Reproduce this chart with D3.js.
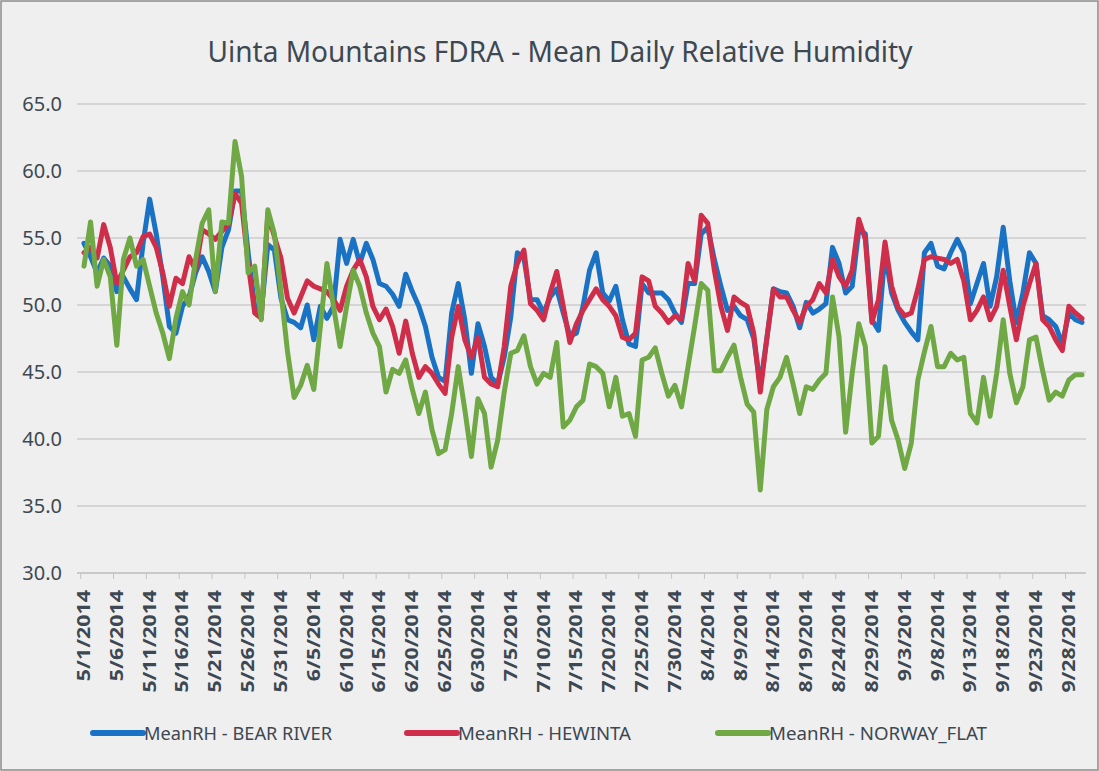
<!DOCTYPE html>
<html>
<head>
<meta charset="utf-8">
<script src="https://cdn.jsdelivr.net/npm/d3@7"></script>
<style>
  body { margin: 0; background: #fff; }
  svg { display: block; }
</style>
</head>
<body>
<svg id="chart" width="1099" height="771"></svg>
<script>
// daily values, 5/1/2014 .. 9/30/2014
const bearRiver = [
  54.6, 53.6, 52.4, 53.5, 52.9, 51.0, 52.1, 51.2, 50.4, 54.6,
  57.9, 55.3, 52.1, 48.4, 47.9, 49.9, 50.6, 52.4, 53.6, 52.5,
  51.0, 54.3, 55.6, 58.5, 58.5, 53.9, 49.9, 49.5, 54.5, 54.1,
  50.5, 48.9, 48.7, 48.3, 50.0, 47.4, 49.9, 49.0, 49.9, 54.9,
  53.1, 54.9, 53.1, 54.6, 53.4, 51.6, 51.4, 50.8, 49.9, 52.3,
  51.0, 49.9, 48.4, 46.1, 44.6, 44.3, 49.4, 51.6, 48.9, 44.9,
  48.6, 46.9, 44.6, 44.1, 46.1, 49.1, 53.9, 53.5, 50.4, 50.4,
  49.4, 50.6, 51.2, 49.4, 47.7, 47.9, 49.9, 52.6, 53.9, 50.9,
  50.3, 51.4, 48.9, 47.1, 46.9, 51.6, 50.9, 50.9, 50.9, 50.4,
  49.4, 48.7, 51.6, 51.6, 55.3, 55.8, 53.4, 51.4, 49.6, 49.9,
  49.2, 48.9, 47.5, 44.0, 47.5, 51.2, 51.0, 50.9, 49.9, 48.3,
  50.2, 49.4, 49.7, 50.1, 54.3, 53.1, 50.9, 51.4, 55.6, 55.3,
  48.9, 48.1, 53.9, 50.9, 49.6, 48.7, 48.0, 47.4, 53.9, 54.6,
  52.9, 52.7, 53.9, 54.9, 53.9, 50.1, 51.6, 53.1, 49.9, 52.1,
  55.8, 51.8, 48.7, 50.9, 53.9, 53.1, 49.2, 48.9, 48.4, 47.1,
  49.4, 48.9, 48.7
];

const hewinta = [
  53.9, 54.3, 53.5, 56.0, 54.3, 51.6, 52.6, 53.6, 53.9, 55.1,
  55.3, 54.3, 52.4, 49.9, 52.0, 51.6, 53.6, 52.6, 55.6, 55.3,
  54.9, 55.5, 56.0, 58.3, 57.6, 53.1, 49.4, 49.0, 56.8, 55.1,
  53.5, 50.5, 49.4, 50.6, 51.8, 51.4, 51.2, 51.0, 50.4, 49.6,
  51.4, 52.6, 53.4, 52.1, 49.9, 48.9, 49.7, 48.4, 46.4, 48.8,
  46.4, 44.6, 45.4, 44.9, 44.1, 43.4, 47.6, 49.9, 47.4, 46.1,
  47.6, 44.6, 44.1, 43.9, 46.9, 51.4, 53.1, 54.1, 50.1, 49.6,
  48.9, 50.9, 52.5, 49.9, 47.2, 48.6, 49.6, 50.4, 51.2, 50.4,
  49.9, 49.2, 47.6, 47.4, 47.9, 52.1, 51.8, 49.9, 49.4, 48.7,
  49.2, 48.9, 53.1, 51.8, 56.7, 56.1, 52.6, 49.9, 48.1, 50.6,
  50.2, 49.9, 47.9, 43.5, 47.5, 51.2, 50.6, 50.6, 49.6, 48.7,
  49.9, 50.4, 51.6, 50.9, 53.4, 52.1, 51.4, 52.6, 56.4, 54.9,
  48.7, 50.4, 54.7, 51.4, 49.8, 49.2, 49.4, 51.2, 53.4, 53.6,
  53.5, 53.4, 53.1, 53.4, 51.8, 48.9, 49.6, 50.6, 48.9, 49.9,
  52.6, 49.9, 47.4, 49.9, 51.6, 53.1, 48.9, 48.4, 47.4, 46.6,
  49.9, 49.4, 49.0
];

const norwayFlat = [
  52.9, 56.2, 51.4, 53.4, 52.1, 47.0, 53.4, 55.0, 52.9, 53.4,
  51.4, 49.4, 47.9, 46.0, 49.0, 51.0, 50.0, 53.4, 56.1, 57.1,
  51.0, 56.2, 56.1, 62.2, 59.6, 52.4, 52.9, 48.9, 57.1, 55.3,
  51.0, 46.5, 43.1, 44.0, 45.5, 43.7, 48.4, 53.1, 49.9, 46.9,
  49.9, 52.6, 51.4, 49.4, 47.9, 46.9, 43.5, 45.2, 44.9, 45.9,
  43.7, 41.9, 43.5, 40.7, 38.9, 39.2, 41.9, 45.4, 42.2, 38.7,
  43.0, 41.9, 37.9, 39.9, 43.5, 46.4, 46.6, 47.7, 45.4, 44.1,
  44.9, 44.6, 47.2, 40.9, 41.4, 42.4, 42.9, 45.6, 45.4, 44.9,
  42.4, 44.6, 41.7, 41.9, 40.2, 45.9, 46.1, 46.8, 44.9, 43.2,
  44.0, 42.4, 45.4, 48.4, 51.6, 51.1, 45.1, 45.1, 46.1, 47.0,
  44.6, 42.6, 42.0, 36.2, 42.2, 43.9, 44.6, 46.1, 44.1, 41.9,
  43.9, 43.7, 44.4, 44.9, 50.6, 47.6, 40.5, 44.9, 48.6, 46.9,
  39.7, 40.2, 45.4, 41.4, 39.9, 37.8, 39.7, 44.4, 46.5, 48.4,
  45.4, 45.4, 46.4, 45.9, 46.1, 41.9, 41.2, 44.6, 41.7, 44.9,
  48.9, 44.9, 42.7, 43.9, 47.4, 47.6, 45.1, 42.9, 43.5, 43.2,
  44.4, 44.8, 44.8
];

const tickLabels = [
  "5/1/2014", "5/6/2014", "5/11/2014", "5/16/2014", "5/21/2014", "5/26/2014",
  "5/31/2014", "6/5/2014", "6/10/2014", "6/15/2014", "6/20/2014", "6/25/2014",
  "6/30/2014", "7/5/2014", "7/10/2014", "7/15/2014", "7/20/2014", "7/25/2014",
  "7/30/2014", "8/4/2014", "8/9/2014", "8/14/2014", "8/19/2014", "8/24/2014",
  "8/29/2014", "9/3/2014", "9/8/2014", "9/13/2014", "9/18/2014", "9/23/2014",
  "9/28/2014"
];

const yTicks = [30, 35, 40, 45, 50, 55, 60, 65];

const seriesNames = ["MeanRH - BEAR RIVER", "MeanRH - HEWINTA", "MeanRH - NORWAY_FLAT"];
const seriesColors = ["#1a72c4", "#cf2e4a", "#6fa844"];

let fmtDate = d3.timeFormat("%-m/%-d/%Y");
let dates = d3.timeDays(new Date(2014, 4, 1), new Date(2014, 9, 1)).map(fmtDate);

let svg = d3.select("#chart");
let W = 1099, H = 771;

// chart background + border
svg.append("rect")
  .attr("x", 1).attr("y", 1)
  .attr("width", W - 2).attr("height", H - 2)
  .attr("fill", "#efefef")
  .attr("stroke", "#8a8a8a")
  .attr("stroke-width", 1.5);

let x = d3.scalePoint().domain(dates).range([84, 1082]);
let y = d3.scaleLinear().domain([30, 65]).range([573, 104]);

// gridlines
svg.append("g")
  .selectAll("line")
  .data(yTicks)
  .enter().append("line")
  .attr("x1", 77).attr("x2", 1086)
  .attr("y1", d => y(d)).attr("y2", d => y(d))
  .attr("stroke", d => d === 30 ? "#bdbdbd" : "#cdcdcd")
  .attr("stroke-width", 1.3);

// y labels
svg.append("g")
  .selectAll("text")
  .data(yTicks)
  .enter().append("text")
  .attr("x", 62)
  .attr("y", d => y(d) + 7)
  .attr("text-anchor", "end")
  .attr("font-family", "Noto Sans, sans-serif")
  .attr("font-size", "20px")
  .attr("fill", "#3d4852")
  .text(d => d3.format(".1f")(d));

// small category ticks
svg.append("g")
  .selectAll("line")
  .data(tickLabels)
  .enter().append("line")
  .attr("x1", d => x(d) - 3.3).attr("x2", d => x(d) - 3.3)
  .attr("y1", 573).attr("y2", 579)
  .attr("stroke", "#c4c4c4")
  .attr("stroke-width", 1);

// x labels, rotated
svg.append("g")
  .selectAll("text")
  .data(tickLabels)
  .enter().append("text")
  .attr("transform", d => `translate(${x(d) + 6},590) rotate(-90)`)
  .attr("text-anchor", "end")
  .attr("font-family", "Noto Sans, sans-serif")
  .attr("font-weight", "bold")
  .attr("font-size", "17px")
  .attr("fill", "#3d4852")
  .attr("textLength", d => d.length * 11.4)
  .attr("lengthAdjust", "spacingAndGlyphs")
  .text(d => d);

// lines
let allSeries = [bearRiver, hewinta, norwayFlat];
let line = d3.line()
  .x((d, i) => x(dates[i]))
  .y(d => y(d))
  .curve(d3.curveLinear);

allSeries.forEach((s, k) => {
  svg.append("path")
    .datum(s)
    .attr("d", line)
    .attr("fill", "none")
    .attr("stroke", seriesColors[k])
    .attr("stroke-width", 5)
    .attr("stroke-linejoin", "round")
    .attr("stroke-linecap", "round");
});

// title
svg.append("text")
  .attr("x", 560)
  .attr("y", 62)
  .attr("text-anchor", "middle")
  .attr("font-family", "Noto Sans, sans-serif")
  .attr("font-size", "29px")
  .attr("fill", "#3d4852")
  .attr("textLength", 705)
  .attr("lengthAdjust", "spacingAndGlyphs")
  .text("Uinta Mountains FDRA - Mean Daily Relative Humidity");

// legend
let legendX = [93, 407, 718];
let legendTextW = [188, 173, 218];
let legend = svg.append("g");
seriesNames.forEach((name, k) => {
  legend.append("line")
    .attr("x1", legendX[k]).attr("x2", legendX[k] + 50)
    .attr("y1", 733).attr("y2", 733)
    .attr("stroke", seriesColors[k])
    .attr("stroke-width", 6)
    .attr("stroke-linecap", "round");
  legend.append("text")
    .attr("x", legendX[k] + 51)
    .attr("y", 740)
    .attr("font-family", "Noto Sans, sans-serif")
    .attr("font-size", "18px")
    .attr("fill", "#3d4852")
    .attr("textLength", legendTextW[k])
    .attr("lengthAdjust", "spacingAndGlyphs")
    .text(name);
});
</script>
</body>
</html>
